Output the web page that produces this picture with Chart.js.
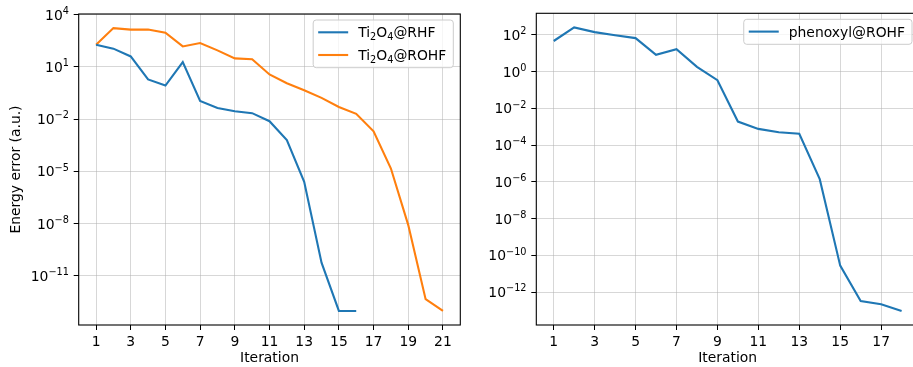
<!DOCTYPE html>
<html>
<head>
<meta charset="utf-8">
<script src="https://cdn.jsdelivr.net/npm/chart.js@4/dist/chart.umd.min.js"></script>
<style>
  html, body { margin: 0; padding: 0; background: #fff; overflow: hidden; width: 913px; height: 367px; }
  canvas { position: absolute; top: 0; }
  #left { left: 0; }
  #right { left: 470px; }
</style>
</head>
<body>
<canvas id="left" width="470" height="367"></canvas>
<canvas id="right" width="449" height="367"></canvas>
<script>
// Data (energy error per iteration, log scale)
var itersTi = [1, 2, 3, 4, 5, 6, 7, 8, 9, 10, 11, 12, 13, 14, 15, 16, 17, 18, 19, 20, 21];
var tiRHF = [190, 112, 40, 1.9, 0.85, 19, 0.11, 0.044, 0.028, 0.022, 0.0076, 6.2e-4, 2.5e-6, 5.6e-11, 9.5e-14, 9.5e-14];
var tiROHF = [190, 1700, 1380, 1410, 930, 150, 235, 89, 31, 27.5, 3.7, 1.15, 0.46, 0.166, 0.05, 0.02, 0.002, 1.45e-5, 8.1e-9, 4.5e-13, 9.5e-14];

var itersPh = [1, 2, 3, 4, 5, 6, 7, 8, 9, 10, 11, 12, 13, 14, 15, 16, 17, 18];
var phROHF = [46, 250, 140, 95, 66, 8.1, 16.6, 1.8, 0.34, 0.0019, 7.6e-4, 5.0e-4, 4.1e-4, 1.4e-6, 2.75e-11, 3.3e-13, 2.2e-13, 9.5e-14];

// Tick positions
var xTicksTi = [1, 3, 5, 7, 9, 11, 13, 15, 17, 19, 21];
var xTicksPh = [1, 3, 5, 7, 9, 11, 13, 15, 17];
var yTicksTi = [1e4, 1e1, 1e-2, 1e-5, 1e-8, 1e-11];
var yTicksPh = [1e2, 1e0, 1e-2, 1e-4, 1e-6, 1e-8, 1e-10, 1e-12];

var blue = '#1f77b4';
var orange = '#ff7f0e';
var FONT = 'DejaVu Sans';
var FS = 13.9;

Chart.defaults.font.family = FONT;
Chart.defaults.font.size = FS;
Chart.defaults.color = '#000';

// small text renderer for sub/superscripts (mathtext-like)
var SUP = '⁰¹²³⁴⁵⁶⁷⁸⁹';
var SUB = '₀₁₂₃₄₅₆₇₈₉';
function segments(str) {
    var out = [];
    str.split('').forEach(function (c) {
        var kind = 'n', t = c;
        if (SUP.indexOf(c) >= 0) { kind = 'sup'; t = String(SUP.indexOf(c)); }
        else if (c === '⁻') { kind = 'sup'; t = '−'; }
        else if (SUB.indexOf(c) >= 0) { kind = 'sub'; t = String(SUB.indexOf(c)); }
        var last = out[out.length - 1];
        if (last && last.kind === kind) last.t += t; else out.push({ t: t, kind: kind });
    });
    return out;
}
function segFont(kind) {
    return (kind === 'n' ? FS : FS * 0.7) + 'px "' + FONT + '"';
}
function richWidth(ctx, str) {
    var w = 0;
    segments(str).forEach(function (s) { ctx.font = segFont(s.kind); w += ctx.measureText(s.t).width; });
    return w;
}
function drawRich(ctx, str, x, y, align) {
    if (align === 'right') x -= richWidth(ctx, str);
    ctx.textAlign = 'left';
    ctx.textBaseline = 'alphabetic';
    segments(str).forEach(function (s) {
        ctx.font = segFont(s.kind);
        var dy = s.kind === 'sup' ? -5.7 : (s.kind === 'sub' ? 3 : 0);
        ctx.fillText(s.t, x, y + dy);
        x += ctx.measureText(s.t).width;
    });
}

var SUPMAP = { '0': '⁰', '1': '¹', '2': '²', '3': '³', '4': '⁴', '5': '⁵', '6': '⁶', '7': '⁷', '8': '⁸', '9': '⁹', '-': '⁻' };
function powLabel(v) {
    var e = String(Math.round(Math.log10(v)));
    return '10' + e.split('').map(function (c) { return SUPMAP[c]; }).join('');
}

function points(xs, ys) {
    return ys.map(function (y, i) { return { x: xs[i], y: y }; });
}

// draws the axes frame (spines)
var framePlugin = {
    id: 'frame',
    afterDatasetsDraw: function (chart) {
        var a = chart.chartArea, ctx = chart.ctx;
        ctx.save();
        ctx.strokeStyle = '#000';
        ctx.lineWidth = 1.1;
        ctx.strokeRect(a.left, a.top, a.right - a.left, a.bottom - a.top);
        ctx.restore();
    }
};

// y tick labels as 10 with a raised exponent
var powTicksPlugin = {
    id: 'powTicks',
    afterDraw: function (chart) {
        var s = chart.scales.y, ctx = chart.ctx;
        ctx.save();
        ctx.fillStyle = '#000';
        s.ticks.forEach(function (t) {
            var py = s.getPixelForValue(t.value);
            drawRich(ctx, powLabel(t.value), s.right - 9.8, py + 5, 'right');
        });
        ctx.restore();
    }
};

// matplotlib-like legend drawn inside the axes, upper right
var boxLegendPlugin = {
    id: 'boxLegend',
    afterDraw: function (chart) {
        var a = chart.chartArea, ctx = chart.ctx;
        var sets = chart.data.datasets;
        ctx.save();
        var tw = 0;
        sets.forEach(function (d) { tw = Math.max(tw, richWidth(ctx, d.label)); });
        var w = 5 + 30 + 10 + tw + 7;
        var h = 25 + 22.7 * (sets.length - 1);
        var x = a.right - 7 - w, y = a.top + 6;
        ctx.beginPath();
        ctx.roundRect(x, y, w, h, 3);
        ctx.fillStyle = 'rgba(255,255,255,0.8)';
        ctx.fill();
        ctx.strokeStyle = '#cccccc';
        ctx.lineWidth = 1;
        ctx.stroke();
        sets.forEach(function (d, i) {
            var cy = y + 12.3 + 22.7 * i;
            ctx.strokeStyle = d.borderColor;
            ctx.lineWidth = 2.1;
            ctx.beginPath();
            ctx.moveTo(x + 5, cy);
            ctx.lineTo(x + 35, cy);
            ctx.stroke();
            ctx.fillStyle = '#000';
            drawRich(ctx, d.label, x + 45, cy + 5, 'left');
        });
        ctx.restore();
    }
};

function makeChart(id, datasets, opts) {
    return new Chart(document.getElementById(id), {
        type: 'line',
        data: { datasets: datasets },
        plugins: [framePlugin, powTicksPlugin, boxLegendPlugin],
        options: {
            responsive: false,
            animation: false,
            layout: { padding: { top: opts.top, right: opts.right, left: 0, bottom: 0 } },
            plugins: { legend: { display: false }, tooltip: { enabled: false } },
            elements: { line: { tension: 0, borderWidth: 2.1 }, point: { radius: 0 } },
            scales: {
                x: {
                    type: 'linear',
                    min: opts.xmin,
                    max: opts.xmax,
                    afterBuildTicks: function (s) { s.ticks = opts.xticks.map(function (v) { return { value: v }; }); },
                    afterFit: function (s) { s.height = 42; },
                    ticks: { autoSkip: false, maxRotation: 0, padding: 4, callback: function (v) { return String(v); } },
                    grid: { color: 'rgba(176,176,176,0.5)', lineWidth: 1, tickLength: 5, tickColor: '#000' },
                    border: { display: false },
                    title: { display: true, text: 'Iteration', padding: { top: 0, bottom: 0 } }
                },
                y: {
                    type: 'logarithmic',
                    min: opts.ymin,
                    max: opts.ymax,
                    afterBuildTicks: function (s) { s.ticks = opts.yticks.map(function (v) { return { value: v }; }); },
                    afterFit: function (s) { s.width = opts.yw; },
                    ticks: { autoSkip: false, display: false },
                    grid: { color: 'rgba(176,176,176,0.5)', lineWidth: 1, tickLength: 5, tickColor: '#000' },
                    border: { display: false },
                    title: { display: opts.ytitle !== '', text: opts.ytitle, padding: { top: 8, bottom: 0 } }
                }
            }
        }
    });
}

makeChart('left', [
    { label: 'Ti₂O₄@RHF', data: points(itersTi, tiRHF), borderColor: blue, backgroundColor: blue },
    { label: 'Ti₂O₄@ROHF', data: points(itersTi, tiROHF), borderColor: orange, backgroundColor: orange }
], {
    top: 14, right: 9.7, yw: 78.7,
    xmin: 0, xmax: 22, xticks: xTicksTi,
    ymin: Math.pow(10, -13.83), ymax: Math.pow(10, 4.04), yticks: yTicksTi,
    ytitle: 'Energy error (a.u.)'
});

makeChart('right', [
    { label: 'phenoxyl@ROHF', data: points(itersPh, phROHF), borderColor: blue, backgroundColor: blue }
], {
    top: 13.3, right: 0, yw: 66.3,
    xmin: 0.15, xmax: 18.85, xticks: xTicksPh,
    ymin: Math.pow(10, -13.79), ymax: Math.pow(10, 3.17), yticks: yTicksPh,
    ytitle: ''
});
</script>
</body>
</html>
